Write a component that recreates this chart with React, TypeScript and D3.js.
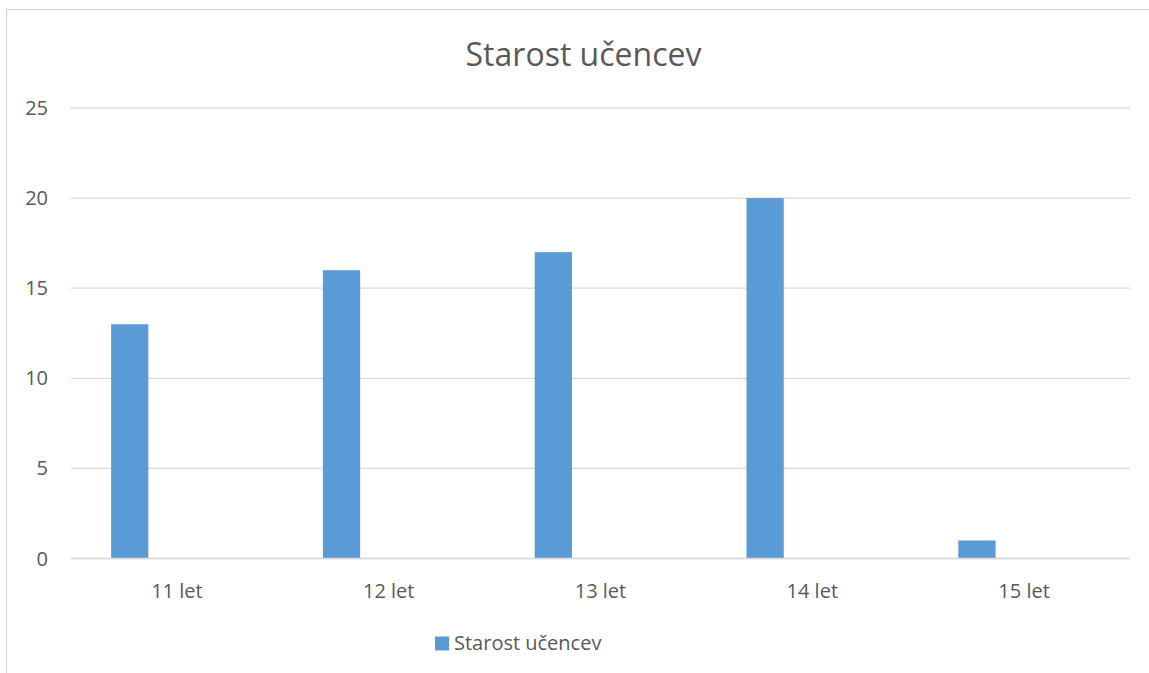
import * as d3 from "d3";
import { useRef, useEffect } from "react";

const categories = ["11 let", "12 let", "13 let", "14 let", "15 let"];
const seriesName = "Starost učencev";
const values = [13, 16, 17, 20, 1];
const yTicks = [0, 5, 10, 15, 20, 25];
// Excel kept room for two more (empty) series in each category
const slots = [seriesName, "slot2", "slot3"];

export default function App() {
  const chartRef = useRef<SVGSVGElement | null>(null);
  const width = 1149;
  const height = 673;

  useEffect(() => {
    const svg = d3.select(chartRef.current);
    svg.selectAll("*").remove();

    const margin = { left: 71, right: 19, top: 108, bottom: 114.5 };
    const font = "'Open Sans', 'Noto Sans', sans-serif";
    const textColour = "#595959";

    // Chart border
    svg
      .append("rect")
      .attr("x", 6.5)
      .attr("y", 9.5)
      .attr("width", width + 20)
      .attr("height", height + 20)
      .attr("fill", "#fff")
      .attr("stroke", "#d9d9d9")
      .attr("stroke-width", 1.3);

    // Scales
    const x0 = d3
      .scaleBand()
      .domain(categories)
      .range([margin.left, width - margin.right]);

    const x1 = d3
      .scaleBand()
      .domain(slots)
      .range([0, x0.bandwidth()])
      .paddingInner(0.21)
      .paddingOuter(0.85);

    const y = d3
      .scaleLinear()
      .domain([0, 25])
      .range([height - margin.bottom, margin.top]);

    // Gridlines
    svg
      .append("g")
      .selectAll("line")
      .data(yTicks)
      .join("line")
      .attr("x1", margin.left)
      .attr("x2", width - margin.right)
      .attr("y1", (d) => y(d))
      .attr("y2", (d) => y(d))
      .attr("stroke", "#d9d9d9")
      .attr("stroke-width", 1.3);

    // Y labels
    svg
      .append("g")
      .selectAll("text")
      .data(yTicks)
      .join("text")
      .attr("x", 48)
      .attr("y", (d) => y(d) + 7)
      .attr("text-anchor", "end")
      .attr("font-family", font)
      .attr("font-size", 20)
      .attr("fill", textColour)
      .text((d) => d);

    // Bars
    svg
      .append("g")
      .selectAll("rect")
      .data(values)
      .join("rect")
      .attr("x", (d, i) => x0(categories[i])! + x1(seriesName)!)
      .attr("y", (d) => y(d))
      .attr("width", x1.bandwidth())
      .attr("height", (d) => y(0) - y(d))
      .attr("fill", "#5b9bd5");

    // Redraw baseline over bars
    svg
      .append("line")
      .attr("x1", margin.left)
      .attr("x2", width - margin.right)
      .attr("y1", y(0))
      .attr("y2", y(0))
      .attr("stroke", "#d9d9d9")
      .attr("stroke-width", 1.3);

    // Category labels
    svg
      .append("g")
      .selectAll("text")
      .data(categories)
      .join("text")
      .attr("x", (d) => x0(d)! + x0.bandwidth() / 2)
      .attr("y", y(0) + 39)
      .attr("text-anchor", "middle")
      .attr("font-family", font)
      .attr("font-size", 20)
      .attr("fill", textColour)
      .text((d) => d);

    // Title
    svg
      .append("text")
      .attr("x", 583.5)
      .attr("y", 66)
      .attr("text-anchor", "middle")
      .attr("font-family", font)
      .attr("font-size", 32)
      .attr("fill", textColour)
      .text(seriesName);

    // Legend
    const legend = svg.append("g").attr("transform", "translate(435,636.5)");
    legend
      .append("rect")
      .attr("width", 14)
      .attr("height", 14)
      .attr("fill", "#5b9bd5");
    legend
      .append("text")
      .attr("x", 19)
      .attr("y", 13)
      .attr("font-family", font)
      .attr("font-size", 20)
      .attr("fill", textColour)
      .text(seriesName);
  }, []);

  return (
    <svg
      ref={chartRef}
      width={width}
      height={height}
      style={{ position: "absolute", left: 0, top: 0, background: "#fff" }}
    >
      <title>Starost učencev</title>
    </svg>
  );
}
